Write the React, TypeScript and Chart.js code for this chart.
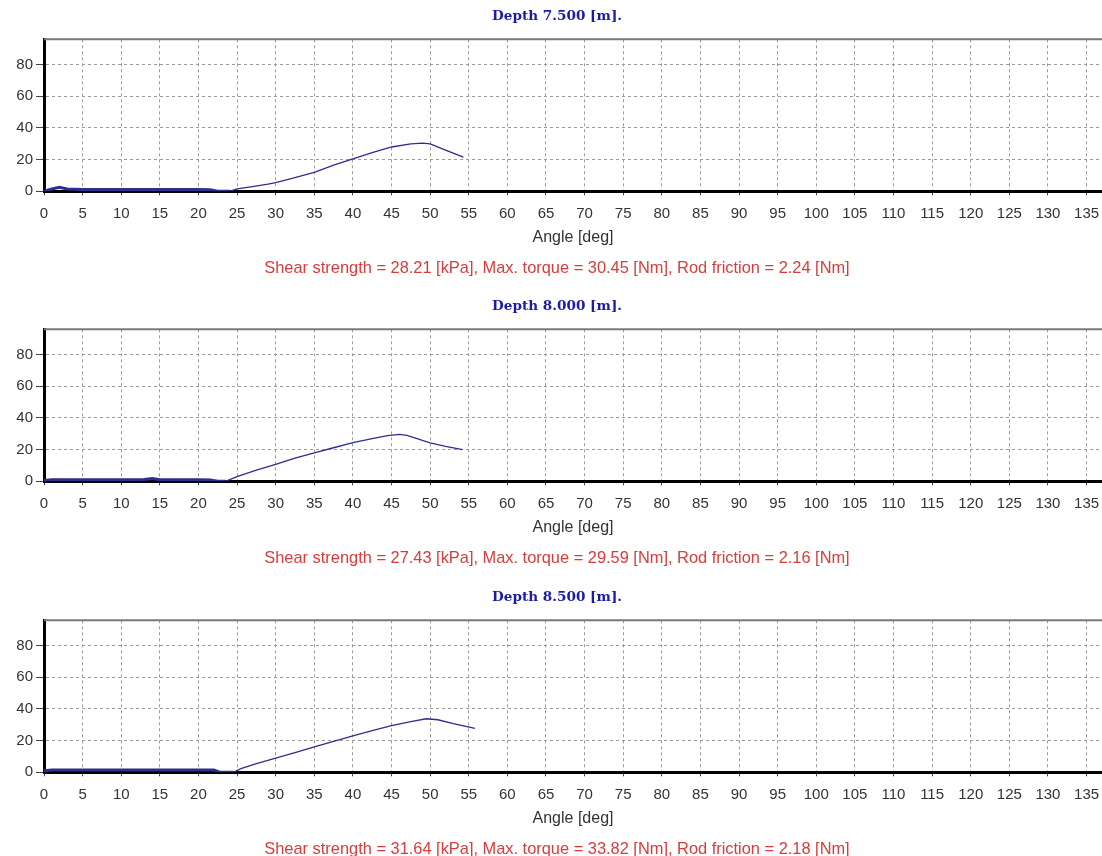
import React, { useEffect, useRef } from "react";
import { Chart, registerables } from "chart.js";

Chart.register(...registerables);

// ---- data ----
const depthTitles = ["Depth 7.500 [m].", "Depth 8.000 [m].", "Depth 8.500 [m]."];
const resultLines = [
  "Shear strength = 28.21 [kPa], Max. torque = 30.45 [Nm], Rod friction = 2.24 [Nm]",
  "Shear strength = 27.43 [kPa], Max. torque = 29.59 [Nm], Rod friction = 2.16 [Nm]",
  "Shear strength = 31.64 [kPa], Max. torque = 33.82 [Nm], Rod friction = 2.18 [Nm]",
];

const angles75 = [0, 1, 2, 3, 5, 8, 11, 14, 17, 20, 21.5, 22.5, 24, 25, 27, 29, 30, 32, 35, 37.5, 40, 42.5, 45, 47.5, 49, 50, 52, 54.3];
const torque75 = [0, 1.5, 2.5, 1.5, 1.2, 1.2, 1.2, 1.2, 1.2, 1.2, 1.0, 0, 0, 1.5, 3, 4.5, 5.5, 8, 12, 16.5, 20.5, 24.5, 28, 30, 30.45, 30, 26, 21.6];

const angles80 = [0, 1, 5, 10, 13, 14, 15, 20, 21.5, 22.5, 23.5, 25, 27.5, 30, 32.5, 35, 37.5, 40, 42.5, 44.5, 46, 47, 50, 52, 54.2];
const torque80 = [0.5, 1, 1, 1, 1.2, 1.8, 1, 1, 0.8, 0, 0, 3, 7, 10.7, 14.7, 18, 21.2, 24.5, 27, 28.8, 29.59, 29, 24.3, 22, 20];

const angles85 = [0, 1, 5, 10, 15, 20, 22, 22.8, 24.5, 25.5, 27.5, 30, 32.5, 35, 37.5, 40, 42.5, 45, 47.5, 49.5, 51, 53, 55.8];
const torque85 = [1, 1.5, 1.5, 1.5, 1.5, 1.5, 1.5, 0, 0, 2.3, 5.5, 9, 12.5, 16, 19.5, 23, 26.3, 29.5, 32, 33.82, 33.2, 30.8, 27.7];

const xMin = 0;
const xMax = 137;
const xStep = 5;
const yMin = 0;
const yMax = 96;
const yStep = 20;
const xAxisTitle = "Angle [deg]";

const panels = [
  { title: depthTitles[0], footer: resultLines[0], angles: angles75, torque: torque75, top: 0 },
  { title: depthTitles[1], footer: resultLines[1], angles: angles80, torque: torque80, top: 290 },
  { title: depthTitles[2], footer: resultLines[2], angles: angles85, torque: torque85, top: 581 },
];

const CANVAS_W = 1114;
const CANVAS_H = 291;

const framePlugin = {
  id: "frameTop",
  beforeDatasetsDraw(chart: any) {
    const { ctx, chartArea: a } = chart;
    ctx.save();
    ctx.strokeStyle = "#7a7a7a";
    ctx.lineWidth = 2;
    ctx.beginPath();
    ctx.moveTo(a.left, a.top);
    ctx.lineTo(a.right + 20, a.top);
    ctx.stroke();
    ctx.restore();
  },
};

function Panel(props: { title: string; footer: string; angles: number[]; torque: number[]; top: number }) {
  const ref = useRef<HTMLCanvasElement>(null);
  useEffect(() => {
    const points = props.angles.map((a, i) => ({ x: a, y: props.torque[i] }));
    const chart = new Chart(ref.current as HTMLCanvasElement, {
      type: "line",
      data: {
        datasets: [
          {
            data: points,
            borderColor: "#2e2e8e",
            borderWidth: 1.3,
            pointRadius: 0,
            tension: 0,
            segment: {
              borderWidth: (ctx: any) => (ctx.p1.parsed.x <= 24.5 ? 3 : 1.3),
            },
          },
        ],
      },
      options: {
        animation: false,
        responsive: false,
        devicePixelRatio: 1,
        layout: { padding: 0 },
        plugins: {
          legend: { display: false },
          tooltip: { enabled: false },
          title: {
            display: true,
            text: props.title,
            color: "#1c1ca6",
            font: { family: "DejaVu Serif", size: 13.6, weight: "bold", lineHeight: 1.2 },
            padding: { top: 8, bottom: 15 },
          },
          subtitle: {
            display: true,
            position: "bottom",
            text: props.footer,
            color: "#d83c3c",
            font: { family: "Liberation Sans", size: 16.4 },
            padding: { top: 8.5, bottom: 13 },
          },
        },
        scales: {
          x: {
            type: "linear",
            position: "bottom",
            min: xMin,
            max: xMax,
            ticks: {
              stepSize: xStep,
              includeBounds: false,
              autoSkip: false,
              maxRotation: 0,
              padding: 9.5,
              color: "#333",
              font: { family: "Liberation Sans", size: 15 },
            },
            grid: {
              color: "#9a9a9a",
              lineWidth: 1,
              tickLength: 4,
              tickColor: "#444",
              tickBorderDash: [],
            },
            border: { display: true, color: "#000", width: 3, dash: [3, 3] },
            title: {
              display: true,
              text: xAxisTitle,
              color: "#333",
              font: { family: "Liberation Sans", size: 16 },
              padding: { top: -4.2, bottom: 2.5 },
            },
          },
          y: {
            type: "linear",
            position: "left",
            min: yMin,
            max: yMax,
            ticks: {
              stepSize: yStep,
              includeBounds: false,
              padding: 3,
              color: "#333",
              font: { family: "Liberation Sans", size: 15 },
            },
            grid: {
              color: "#9a9a9a",
              lineWidth: 1,
              tickLength: 8,
              tickColor: "#444",
              tickBorderDash: [],
            },
            border: { display: true, color: "#000", width: 3, dash: [3, 3] },
            afterFit: (s: any) => {
              s.width = 44;
            },
          },
          yR: {
            type: "linear",
            position: "right",
            display: true,
            ticks: { display: false },
            grid: { display: false, drawTicks: false },
            border: { display: false },
            afterFit: (s: any) => {
              s.width = 12;
            },
          },
        },
      },
      plugins: [framePlugin],
    } as any);
    return () => chart.destroy();
  }, []);
  return (
    <canvas
      ref={ref}
      width={CANVAS_W}
      height={CANVAS_H}
      style={{ position: "absolute", left: 0, top: props.top, width: CANVAS_W, height: CANVAS_H }}
    />
  );
}

export default function App() {
  return (
    <div
      style={{
        position: "fixed",
        left: 0,
        top: 0,
        width: 1102,
        height: 856,
        overflow: "hidden",
        background: "#fff",
      }}
    >
      {panels.map((p, i) => (
        <Panel key={i} {...p} />
      ))}
    </div>
  );
}
